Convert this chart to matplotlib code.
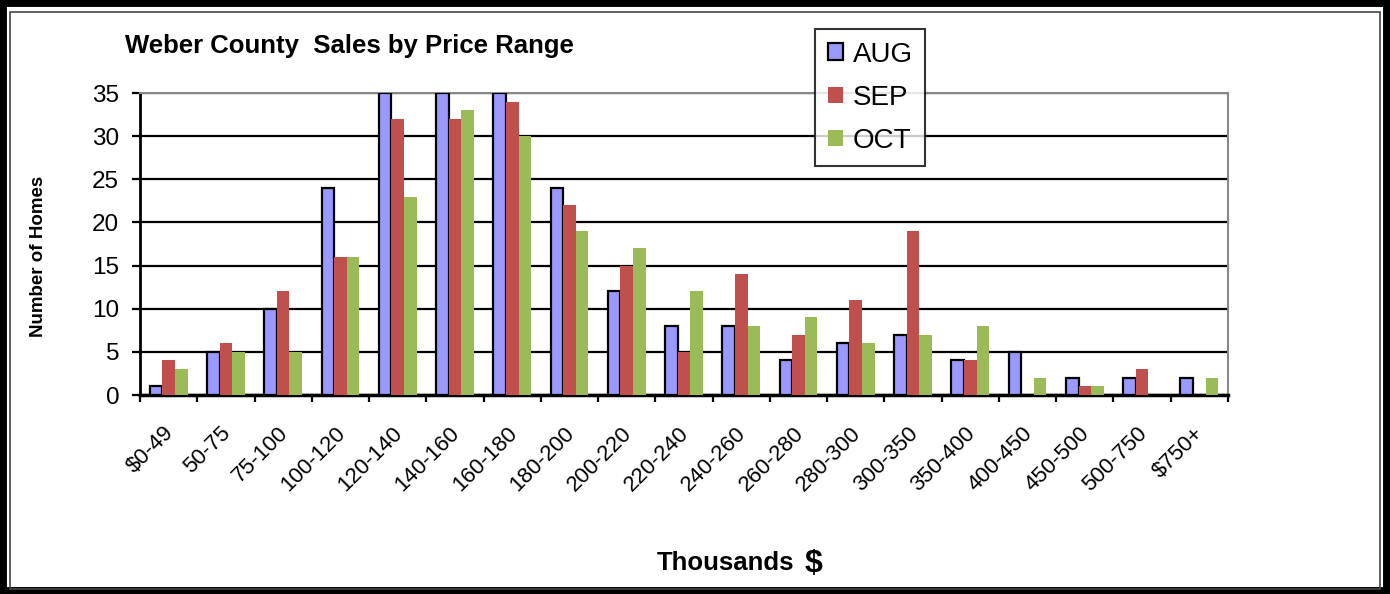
import numpy as np
import matplotlib.pyplot as plt
from matplotlib.patches import Rectangle, Patch

plt.rcParams['font.family'] = ['Liberation Sans', 'DejaVu Sans']

ranges = ["$0-49", "50-75", "75-100", "100-120", "120-140", "140-160", "160-180",
          "180-200", "200-220", "220-240", "240-260", "260-280", "280-300",
          "300-350", "350-400", "400-450", "450-500", "500-750", "$750+"]
aug = [1, 5, 10, 24, 35, 35, 35, 24, 12, 8, 8, 4, 6, 7, 4, 5, 2, 2, 2]
sep = [4, 6, 12, 16, 32, 32, 34, 22, 15, 5, 14, 7, 11, 19, 4, 0, 1, 3, 0]
oct_ = [3, 5, 5, 16, 23, 33, 30, 19, 17, 12, 8, 9, 6, 7, 8, 2, 1, 0, 2]

fig = plt.figure(figsize=(13.9, 5.94), dpi=100)
W, H = 1390, 594

# outer frame: thick black border plus thin inner line
fig.patches.append(Rectangle((0, 0), 1, 1, transform=fig.transFigure,
                             fill=False, edgecolor='black', linewidth=10))
fig.patches.append(Rectangle((10 / W, 5 / H), 1 - 20 / W, 1 - 17 / H,
                             transform=fig.transFigure, fill=False,
                             edgecolor='#444444', linewidth=1.2))

ax = fig.add_axes([140 / W, 1 - 395 / H, 1088 / W, 302 / H])

x = np.arange(len(ranges))
bw = 0.22
ax.bar(x - bw, aug, bw, color='#9999FF', edgecolor='black', linewidth=1.6, zorder=3, label='AUG')
ax.bar(x, sep, bw, color='#C0504D', zorder=3, label='SEP')
ax.bar(x + bw, oct_, bw, color='#9BBB59', zorder=3, label='OCT')

ax.set_xlim(-0.5, len(ranges) - 0.5)
ax.set_ylim(0, 35)
ax.set_yticks(range(0, 36, 5))
ax.yaxis.grid(True, color='black', linewidth=1.6, zorder=0)

ax.set_xticks(np.arange(-0.5, len(ranges), 1))
ax.set_xticklabels([])
ax.tick_params(axis='x', direction='out', length=5, width=1.6)
ax.tick_params(axis='y', direction='out', length=6, width=1.6, labelsize=17.5, pad=9)
for i, lab in enumerate(ranges):
    ax.text(i - 0.1, -3.2, lab, rotation=45, ha='right', va='top',
            rotation_mode='anchor', fontsize=16)

ax.spines['left'].set_linewidth(2)
ax.spines['bottom'].set_linewidth(2.5)
ax.spines['top'].set_color('#888888')
ax.spines['right'].set_color('#888888')
ax.spines['top'].set_linewidth(1.5)
ax.spines['right'].set_linewidth(1.5)

fig.text(125 / W, 1 - 53 / H, "Weber County  Sales by Price Range", fontsize=18.5,
         fontweight='bold', va='baseline', ha='left')
fig.text(39 / W, 1 - 256 / H, "Number of Homes", rotation=90, fontsize=13.5,
         fontweight='bold', va='center', ha='center')
fig.text(657 / W, 1 - 570 / H, "Thousands", fontsize=18.5, fontweight='bold',
         va='baseline', ha='left')
fig.text(805 / W, 1 - 572 / H, "$", fontsize=23, fontweight='bold',
         va='baseline', ha='left')

handles = [Patch(facecolor='#9999FF', edgecolor='black', linewidth=1.6),
           Patch(facecolor='#C0504D'), Patch(facecolor='#9BBB59')]
leg = fig.legend(handles, ['AUG', 'SEP', 'OCT'], loc='upper left',
                 bbox_to_anchor=(815 / W, 1 - 29 / H), borderaxespad=0, fontsize=20,
                 frameon=True, fancybox=False, handlelength=0.55, handleheight=0.55,
                 handletextpad=0.35, labelspacing=0.62, borderpad=0.45)
leg.get_frame().set_edgecolor('black')
leg.get_frame().set_linewidth(1.5)

fig.savefig("out.png", dpi=100)
